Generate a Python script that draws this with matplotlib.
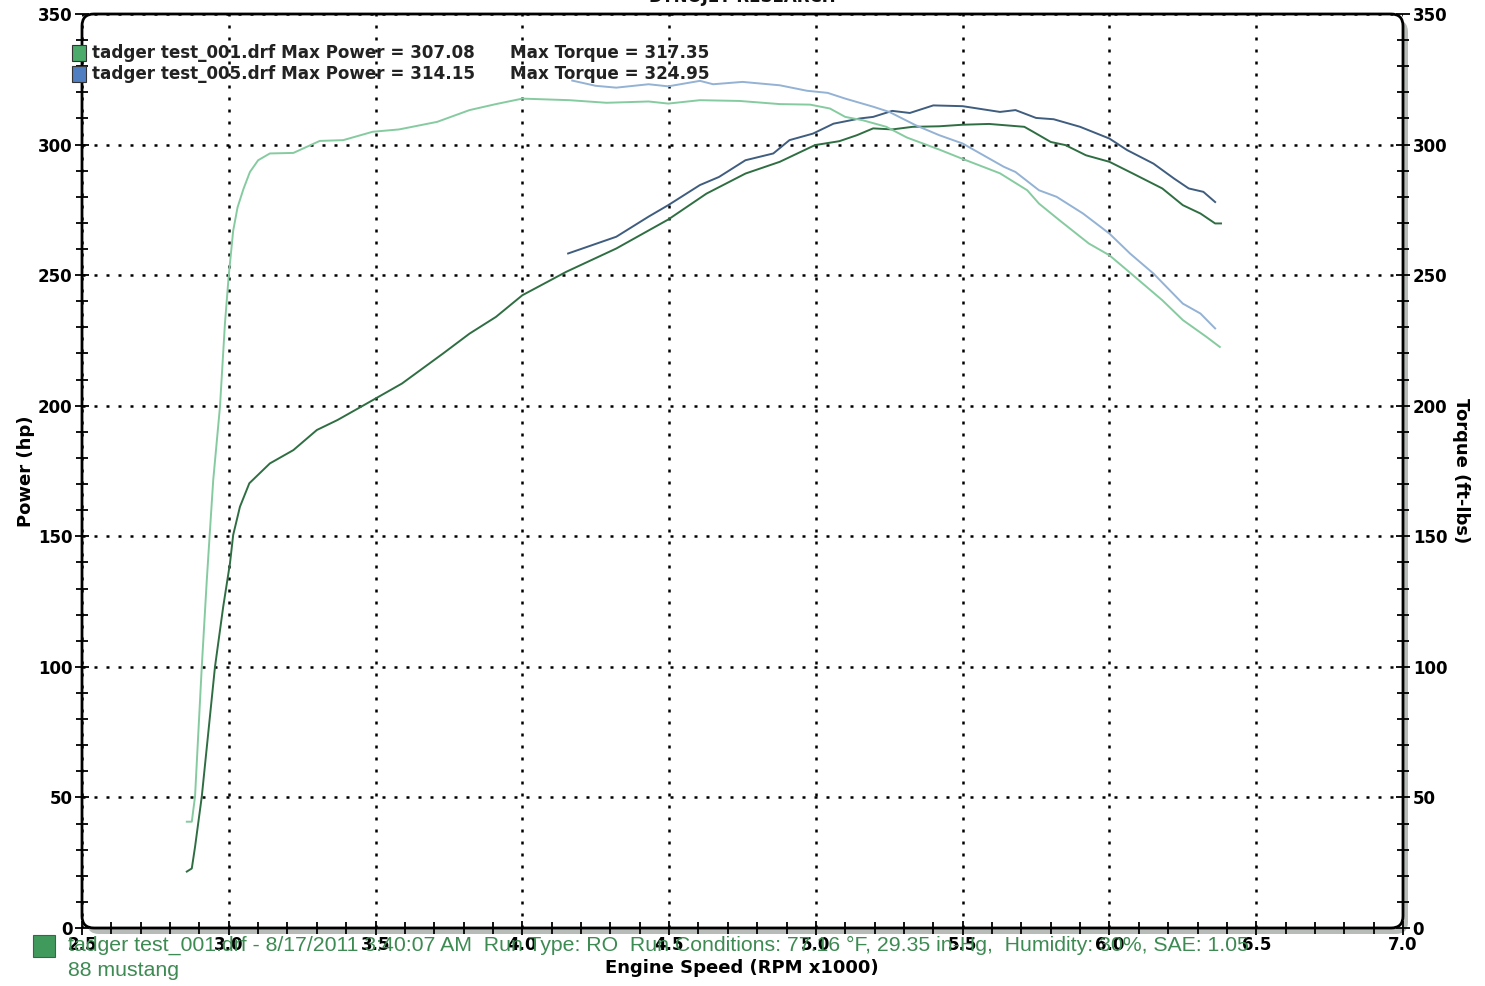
import matplotlib
matplotlib.use("Agg")
import matplotlib.pyplot as plt
from matplotlib.patches import FancyBboxPatch, Rectangle
from matplotlib.transforms import IdentityTransform
from matplotlib.ticker import MultipleLocator

# ---- data (rpm x1000) ----
tq001_rpm = [2.857, 2.874, 2.885, 2.908, 2.925, 2.936, 2.947, 2.97, 2.987, 3.0, 3.015, 3.03,
             3.05, 3.072, 3.10, 3.14, 3.22, 3.31, 3.39, 3.49, 3.58, 3.71, 3.82, 3.91, 4.0, 4.16,
             4.287, 4.43, 4.497, 4.605, 4.74, 4.877, 4.98, 5.048, 5.10, 5.16, 5.24, 5.31, 5.42,
             5.50, 5.627, 5.72, 5.76, 5.83, 5.93, 6.0, 6.06, 6.18, 6.25, 6.33, 6.376]
tq001_val = [40.7, 40.7, 50.3, 100, 133, 152.4, 171.5, 199.6, 231.6, 250, 267, 276,
             283, 289.5, 294, 296.6, 296.8, 301.4, 301.7, 304.9, 305.8, 308.7, 313.2, 315.5,
             317.6, 317, 316, 316.5, 315.7, 317, 316.7, 315.5, 315.3, 313.8, 310.6, 309.3,
             306.8, 302.7, 298.1, 294.5, 289, 282.5, 277.4, 271, 262.1, 257.6, 251.9, 240.4,
             232.8, 226.4, 222.5]

tq005_rpm = [4.17, 4.25, 4.32, 4.43, 4.497, 4.605, 4.65, 4.75, 4.877, 4.97, 5.04, 5.10,
             5.195, 5.25, 5.34, 5.42, 5.50, 5.64, 5.68, 5.76, 5.82, 5.91, 6.0, 6.07, 6.15,
             6.25, 6.31, 6.36]
tq005_val = [324.5, 322.5, 321.8, 323.1, 322.3, 324.4, 323.1, 324.0, 322.7, 320.6, 319.8,
             317.6, 314.5, 312.5, 307.4, 303.6, 300.4, 291.5, 289.5, 282.5, 280, 273.6, 265.9,
             258.3, 250.6, 239.1, 235.3, 229.6]

hp001_rpm = [2.857, 2.874, 2.885, 2.908, 2.953, 2.981, 3.004, 3.015, 3.038, 3.07, 3.14, 3.22,
             3.30, 3.37, 3.46, 3.59, 3.73, 3.82, 3.91, 4.0, 4.15, 4.32, 4.497, 4.627, 4.76,
             4.877, 4.997, 5.08, 5.14, 5.195, 5.26, 5.33, 5.42, 5.50, 5.59, 5.71, 5.74, 5.80,
             5.85, 5.92, 6.0, 6.08, 6.18, 6.25, 6.31, 6.36, 6.38]
hp001_val = [21.6, 22.8, 31, 50.3, 100, 123, 139.6, 150.5, 161.3, 170.3, 177.9, 183,
             190.7, 194.5, 200.2, 208.5, 220, 227.6, 234, 242.3, 251.3, 260.2, 271.3, 281.2,
             288.9, 293.4, 299.8, 301.3, 303.6, 306.2, 305.8, 306.8, 307.0, 307.6, 307.9,
             306.8, 304.9, 301, 299.8, 295.9, 293.4, 288.9, 283.2, 276.8, 273.6, 269.8, 269.8]

hp005_rpm = [4.156, 4.32, 4.43, 4.497, 4.605, 4.67, 4.76, 4.855, 4.91, 4.99, 5.06, 5.15,
             5.195, 5.26, 5.32, 5.40, 5.50, 5.627, 5.68, 5.75, 5.81, 5.90, 6.0, 6.06, 6.15,
             6.22, 6.27, 6.32, 6.36]
hp005_val = [258.3, 264.7, 272.4, 276.8, 284.5, 287.6, 294, 296.6, 301.7, 304.2, 308, 310,
             310.6, 312.9, 312.1, 315, 314.7, 312.5, 313.2, 310.2, 309.7, 306.8, 302.3, 297.9,
             292.7, 287, 283.2, 281.9, 278]

run_names = ["tadger test_001.drf", "tadger test_005.drf"]
max_power = ["307.08", "314.15"]
max_torque = ["317.35", "324.95"]

# colours
LT_GREEN = "#86cba0"
LT_BLUE = "#93b2d4"
DK_GREEN = "#2f6e42"
DK_BLUE = "#3f5d7e"

fig = plt.figure(figsize=(14.85, 9.86), dpi=100)
ax = fig.add_axes([82 / 1485, 58 / 986, 1321 / 1485, 914 / 986])
ax2 = ax.twinx()

ax.plot(hp001_rpm, hp001_val, color=DK_GREEN, lw=1.4, zorder=3)
ax.plot(hp005_rpm, hp005_val, color=DK_BLUE, lw=1.4, zorder=3)
ax2.plot(tq001_rpm, tq001_val, color=LT_GREEN, lw=1.4, zorder=3)
ax2.plot(tq005_rpm, tq005_val, color=LT_BLUE, lw=1.4, zorder=3)

for a in (ax, ax2):
    a.set_xlim(2.5, 7.0)
    a.set_ylim(0, 350)
    a.yaxis.set_major_locator(MultipleLocator(50))
    a.yaxis.set_minor_locator(MultipleLocator(10))
    for s in a.spines.values():
        s.set_visible(False)

ax.xaxis.set_major_locator(MultipleLocator(0.5))
ax.xaxis.set_minor_locator(MultipleLocator(0.1))
ax.xaxis.set_major_formatter(lambda v, p: f"{v:.1f}")

ax.grid(True, which="major", color="black", linestyle=(0, (1.2, 3.6)), linewidth=1.8)

tick_kw = dict(direction="inout", color="black", width=1.3)
ax.tick_params(axis="both", which="major", length=10, labelsize=12, pad=2, **tick_kw)
ax.tick_params(axis="both", which="minor", length=9, **tick_kw)
ax.tick_params(axis="x", which="major", pad=1)
ax2.tick_params(axis="y", which="major", length=10, labelsize=12, pad=2, **tick_kw)
ax2.tick_params(axis="y", which="minor", length=9, **tick_kw)
for lbl in ax.get_xticklabels() + ax.get_yticklabels() + ax2.get_yticklabels():
    lbl.set_fontweight("bold")

ax.set_ylabel("Power (hp)", fontsize=13, fontweight="bold", labelpad=2)
ax2.set_ylabel("Torque (ft-lbs)", fontsize=13, fontweight="bold", rotation=-90, labelpad=16)

# rounded frame with grey drop shadow
shadow = FancyBboxPatch((87, 52), 1321, 914, boxstyle="round,pad=0,rounding_size=12",
                        transform=IdentityTransform(), facecolor="#b8bcb8",
                        edgecolor="none", zorder=-1)
fig.add_artist(shadow)
frame = FancyBboxPatch((82, 58), 1321, 914, boxstyle="round,pad=0,rounding_size=12",
                       transform=IdentityTransform(), facecolor="none",
                       edgecolor="black", linewidth=2, zorder=5)
fig.add_artist(frame)

# legend at top
for i, (name, mp, mt, col) in enumerate(zip(run_names, max_power, max_torque,
                                           ["#4caa6a", "#4f7fc0"])):
    yc = 986 - 53 - i * 21
    fig.add_artist(Rectangle((72, yc - 8), 14, 16, transform=IdentityTransform(),
                             facecolor=col, edgecolor="#333333", lw=0.8, zorder=6))
    fig.text(92 / 1485, yc / 986, f"{name} Max Power = {mp}", fontsize=12.1,
             fontweight="bold", color="#222222", va="center", ha="left")
    fig.text(510 / 1485, yc / 986, f"Max Torque = {mt}", fontsize=12.1,
             fontweight="bold", color="#222222", va="center", ha="left")

# header (cut off at top)
fig.text(742 / 1485, 1.003, "DYNOJET RESEARCH", fontsize=12, fontweight="bold",
         ha="center", va="center", color="#111111")

# footer
fig.text(742 / 1485, 18 / 986, "Engine Speed (RPM x1000)", fontsize=13, fontweight="bold",
         ha="center", va="center")
fig.add_artist(Rectangle((33, 986 - 957), 22, 22, transform=IdentityTransform(),
                         facecolor="#3f9a5c", edgecolor="#555555", lw=0.8, zorder=6))
foot = ("tadger test_001.drf - 8/17/2011 3:40:07 AM  Run Type: RO  Run Conditions: 77.16 \u00b0F, "
        "29.35 in-Hg,  Humidity: 30%, SAE: 1.05")
fig.text(68 / 1485, (986 - 945) / 986, foot, fontsize=15.3, family="Liberation Sans",
         color="#3d8a52", ha="left", va="center", zorder=1)
fig.text(68 / 1485, (986 - 971) / 986, "88 mustang", fontsize=15.3, family="Liberation Sans",
         color="#3d8a52", ha="left", va="center")

fig.savefig("out.png", dpi=100)
